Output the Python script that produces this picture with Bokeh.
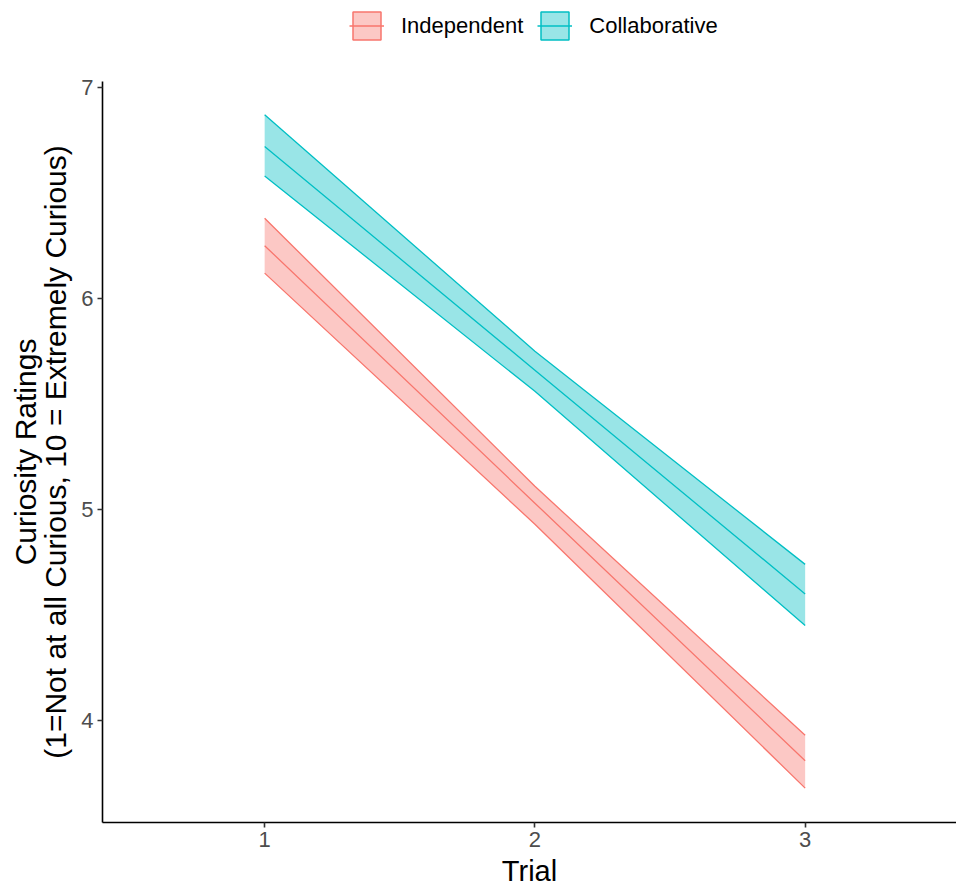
from bokeh.plotting import figure
from bokeh.layouts import column
from bokeh.models import ColumnDataSource, Legend, LegendItem, FixedTicker, LinearAxis
from bokeh.embed import file_html
from bokeh.resources import INLINE

# Model predictions of curiosity by trial, with confidence bands
trial = [1, 2, 3]
indep_fit = [6.25, 5.03, 3.81]
indep_lower = [6.12, 4.93, 3.68]
indep_upper = [6.38, 5.11, 3.93]
collab_fit = [6.72, 5.66, 4.60]
collab_lower = [6.58, 5.56, 4.45]
collab_upper = [6.87, 5.75, 4.74]

groups = ["Independent", "Collaborative"]
colors = ["#F8766D", "#00BFC4"]
x_ticks = [1, 2, 3]
y_ticks = [4, 5, 6, 7]

FONT = "Liberation Sans"
NAN = float("nan")
WIDTH = 956
KEY_HEIGHT = 66
MAIN_HEIGHT = 890 - KEY_HEIGHT

# ---- main panel -------------------------------------------------------------
p = figure(width=WIDTH, height=MAIN_HEIGHT, output_backend="svg", toolbar_location=None,
           x_range=(0.4, 3.56), y_range=(3.517, 7.028),
           min_border_left=102, min_border_right=0, min_border_top=15,
           min_border_bottom=68)
p.outline_line_color = None
p.grid.visible = False
p.background_fill_color = "white"
p.border_fill_color = "white"

series = [
    (indep_fit, indep_lower, indep_upper),
    (collab_fit, collab_lower, collab_upper),
]

for color, (fit, lo, hi) in zip(colors, series):
    src = ColumnDataSource(dict(x=trial, fit=fit, lo=lo, hi=hi))
    p.varea(x="x", y1="lo", y2="hi", source=src, fill_color=color, fill_alpha=0.4)
    p.line(x="x", y="lo", source=src, line_color=color, line_width=1.3)
    p.line(x="x", y="hi", source=src, line_color=color, line_width=1.3)
    p.line(x="x", y="fit", source=src, line_color=color, line_width=1.3)


def style_axis(ax):
    ax.axis_line_color = "black"
    ax.axis_line_width = 1.6
    ax.major_tick_line_color = "#333333"
    ax.major_tick_line_width = 1.6
    ax.major_tick_out = 5
    ax.major_tick_in = 0
    ax.minor_tick_line_color = None
    ax.major_label_text_font = FONT
    ax.major_label_text_font_size = "22px"
    ax.major_label_text_color = "#4D4D4D"
    ax.axis_label_text_font = FONT
    ax.axis_label_text_font_size = "30px"
    ax.axis_label_text_font_style = "normal"
    ax.axis_label_text_color = "black"


style_axis(p.xaxis[0])
style_axis(p.yaxis[0])

p.xaxis.ticker = FixedTicker(ticks=x_ticks)
p.yaxis.ticker = FixedTicker(ticks=y_ticks)
p.xaxis.axis_label = "Trial"
p.xaxis.axis_label_text_font_size = "29px"
p.yaxis.axis_label = "(1=Not at all Curious, 10 = Extremely Curious)"
p.xaxis.major_label_standoff = 4
p.yaxis.major_label_standoff = 4
p.xaxis.axis_label_standoff = 5
p.yaxis.axis_label_standoff = 6

# first line of the y title, carried by a bare outer axis
title_axis = LinearAxis(ticker=FixedTicker(ticks=[]), axis_label="Curiosity Ratings")
style_axis(title_axis)
title_axis.axis_line_color = None
title_axis.major_tick_line_color = None
title_axis.major_tick_out = 0
title_axis.major_label_standoff = 0
title_axis.axis_label_standoff = -5
p.add_layout(title_axis, "left")

# ---- key strip above the panel ---------------------------------------------
k = figure(width=WIDTH, height=KEY_HEIGHT, output_backend="svg", toolbar_location=None,
           x_range=(0, 1), y_range=(0, 1), x_axis_type=None, y_axis_type=None,
           min_border=0)
k.outline_line_color = None
k.grid.visible = False
k.background_fill_color = "white"
k.border_fill_color = "white"

items = []
for name, color in zip(groups, colors):
    # swatch: filled box with outline and a line through the middle
    box = k.quad(left=[NAN], right=[NAN], top=[NAN], bottom=[NAN], fill_color=color,
                 fill_alpha=0.4, line_color=color, line_width=1.5)
    mid = k.line(x=[NAN], y=[NAN], line_color=color, line_width=1.3)
    items.append(LegendItem(label=name, renderers=[box, mid]))

# the strip's frame lines up with the main frame, so offsets are from its left edge
legend = Legend(items=items, orientation="horizontal", location=(247, 23),
                glyph_width=35, glyph_height=35, label_text_font=FONT,
                label_text_font_size="22px", label_text_color="black",
                label_standoff=17, spacing=14, padding=0, margin=0,
                border_line_color=None, background_fill_alpha=0)
k.add_layout(legend, "center")

layout = column(k, p, spacing=0)
open("out.html", "w").write(file_html(layout, INLINE))
